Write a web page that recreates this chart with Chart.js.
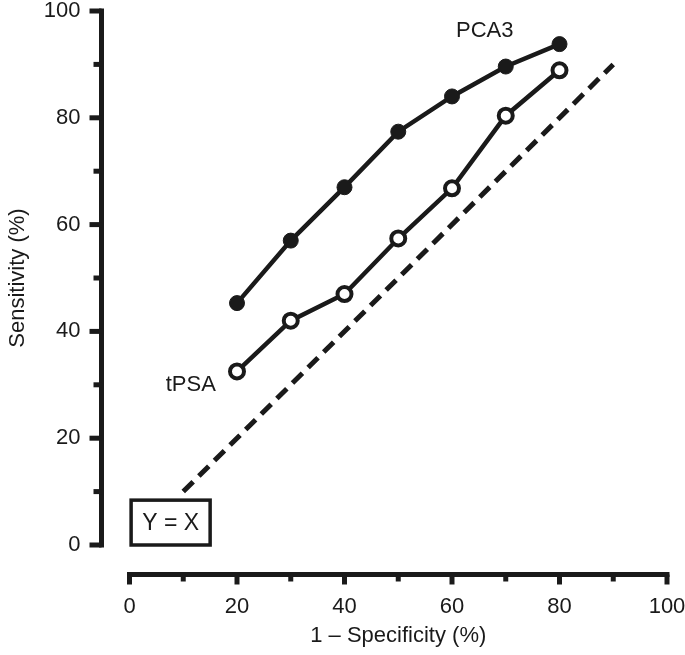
<!DOCTYPE html>
<html>
<head>
<meta charset="utf-8">
<title>ROC</title>
<script src="https://cdn.jsdelivr.net/npm/chart.js@4.4.1/dist/chart.umd.min.js"></script>
<style>
  html, body { margin: 0; padding: 0; background: #fff; }
  #wrap { width: 685px; height: 655px; }
</style>
</head>
<body>
<div id="wrap"><canvas id="roc" width="685" height="655"></canvas></div>
<script>
// values
const fpr = [20, 30, 40, 50, 60, 70, 80];
const pca3 = [45.3, 57, 67, 77.4, 84, 89.6, 93.8];
const tpsa = [32.5, 42, 47, 57.4, 66.8, 80.4, 88.9];
const refX = [10, 90];
const refY = [10, 90];
const xTicks = [0, 20, 40, 60, 80, 100];
const yTicks = [0, 20, 40, 60, 80, 100];

const ink = '#1a1a1a';
const fontFamily = '"Liberation Sans", Arial, Helvetica, sans-serif';
Chart.defaults.font.family = fontFamily;
Chart.defaults.font.size = 22;
Chart.defaults.color = ink;

const toPts = (xs, ys) => xs.map((x, i) => ({ x: x, y: ys[i] }));

// axes detached from the plot, drawn from the scales
const axesPlugin = {
    id: 'axesPlugin',
    afterDraw(chart) {
        const { ctx, chartArea, scales } = chart;
        const xs = scales.x, ys = scales.y;
        const axX = chartArea.left - 28;
        const axY = chartArea.bottom + 29.5;
        ctx.save();
        ctx.strokeStyle = ink;
        ctx.lineCap = 'butt';

        // y axis
        ctx.lineWidth = 5;
        ctx.beginPath();
        ctx.moveTo(axX, ys.getPixelForValue(100) - 2.5);
        ctx.lineTo(axX, ys.getPixelForValue(0) + 2.5);
        ctx.stroke();
        for (let v = 0; v <= 100; v += 10) {
            const py = ys.getPixelForValue(v);
            const len = v % 20 === 0 ? 12 : 8;
            ctx.lineWidth = 5;
            ctx.beginPath();
            ctx.moveTo(axX, py);
            ctx.lineTo(axX - len, py);
            ctx.stroke();
        }

        // x axis
        ctx.lineWidth = 5;
        ctx.beginPath();
        ctx.moveTo(xs.getPixelForValue(0) - 2.5, axY);
        ctx.lineTo(xs.getPixelForValue(100) + 2.5, axY);
        ctx.stroke();
        for (let v = 0; v <= 100; v += 10) {
            const px = xs.getPixelForValue(v);
            const len = v % 20 === 0 ? 10 : 7;
            ctx.lineWidth = 5;
            ctx.beginPath();
            ctx.moveTo(px, axY);
            ctx.lineTo(px, axY + len);
            ctx.stroke();
        }

        // Y = X box
        const bx0 = xs.getPixelForValue(0.3), bx1 = xs.getPixelForValue(15);
        const by0 = ys.getPixelForValue(8.4), by1 = ys.getPixelForValue(0);
        ctx.lineWidth = 3.5;
        ctx.strokeRect(bx0, by0, bx1 - bx0, by1 - by0);
        ctx.fillStyle = ink;
        ctx.font = '23px ' + fontFamily;
        ctx.textAlign = 'center';
        ctx.textBaseline = 'middle';
        ctx.fillText('Y = X', (bx0 + bx1) / 2, (by0 + by1) / 2 + 1);

        // series labels
        ctx.font = '22px ' + fontFamily;
        ctx.fillText('PCA3', xs.getPixelForValue(66.1), ys.getPixelForValue(96.2));
        ctx.fillText('tPSA', xs.getPixelForValue(11.4), ys.getPixelForValue(29.9));
        ctx.restore();
    }
};

new Chart(document.getElementById('roc'), {
    type: 'scatter',
    data: {
        datasets: [
            {
                label: 'Y = X',
                data: toPts(refX, refY),
                showLine: true,
                borderColor: ink,
                borderWidth: 5,
                borderDash: [14, 8],
                pointRadius: 0,
                order: 3
            },
            {
                label: 'tPSA',
                data: toPts(fpr, tpsa),
                showLine: true,
                borderColor: ink,
                borderWidth: 4.5,
                pointRadius: 7,
                pointBorderWidth: 4,
                pointBackgroundColor: '#fff',
                pointBorderColor: ink,
                order: 2
            },
            {
                label: 'PCA3',
                data: toPts(fpr, pca3),
                showLine: true,
                borderColor: ink,
                borderWidth: 4.5,
                pointRadius: 7.5,
                pointBorderWidth: 1,
                pointBackgroundColor: ink,
                pointBorderColor: ink,
                order: 1
            }
        ]
    },
    options: {
        responsive: false,
        animation: false,
        layout: { padding: { top: 7, right: 18, left: 0, bottom: 0 } },
        plugins: {
            legend: { display: false },
            tooltip: { enabled: false }
        },
        scales: {
            x: {
                type: 'linear',
                min: 0,
                max: 100,
                afterBuildTicks: s => { s.ticks = xTicks.map(v => ({ value: v })); },
                grid: { display: false, drawTicks: false },
                border: { display: false },
                ticks: { padding: 49, color: ink },
                title: {
                    display: true,
                    text: '1 \u2013 Specificity (%)',
                    color: ink,
                    padding: { top: 0, bottom: 6 }
                },
                afterFit: s => { s.height = 110; s.paddingLeft = 0; s.paddingRight = 0; }
            },
            y: {
                type: 'linear',
                min: 0,
                max: 100,
                afterBuildTicks: s => { s.ticks = yTicks.map(v => ({ value: v })); },
                grid: { display: false, drawTicks: false },
                border: { display: false },
                ticks: { padding: 49, color: ink },
                title: {
                    display: true,
                    text: 'Sensitivity (%)',
                    color: ink,
                    padding: { top: 5, bottom: 0 }
                },
                afterFit: s => { s.width = 129.5; s.paddingTop = 0; s.paddingBottom = 0; }
            }
        }
    },
    plugins: [axesPlugin]
});
</script>
</body>
</html>
